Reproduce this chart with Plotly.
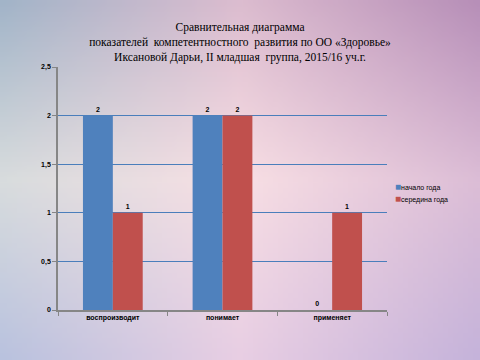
import base64
import struct
import zlib
import plotly.graph_objects as go

categories = ["воспроизводит", "понимает", "применяет"]
series_names = ["начало года", "середина года"]
start_values = [2, 2, 0]
mid_values = [1, 2, 1]
y_ticks = [0, 0.5, 1, 1.5, 2, 2.5]
colors = ["#4f81bd", "#c0504d"]

title_text = ("Сравнительная диаграмма<br>"
              "показателей  компетентностного  развития по ОО «Здоровье»<br>"
              "Иксановой Дарьи, II младшая  группа, 2015/16 уч.г.")

# ---- background gradient (style only) ----
grid = [["#a2b4c8", "#dcbccf", "#b78fb8"],
        ["#d8dcdd", "#f8dfe4", "#dcbdd6"],
        ["#b9c2de", "#e8cee3", "#c5b3da"]]


def hex2rgb(h):
    h = h.lstrip("#")
    return [int(h[i:i + 2], 16) for i in (0, 2, 4)]


g = [[hex2rgb(c) for c in row] for row in grid]
W, H = 96, 72


def lerp(a, b, t):
    return [a[i] + (b[i] - a[i]) * t for i in range(3)]


def sample(u, v):
    xs = u * 2
    ys = v * 2
    i = min(int(xs), 1)
    j = min(int(ys), 1)
    tx = xs - i
    ty = ys - j
    top = lerp(g[j][i], g[j][i + 1], tx)
    bot = lerp(g[j + 1][i], g[j + 1][i + 1], tx)
    return [int(round(c)) for c in lerp(top, bot, ty)]


raw = b""
for y in range(H):
    raw += b"\x00"
    for x in range(W):
        raw += bytes(sample(x / (W - 1), y / (H - 1)))


def chunk(tag, data):
    c = struct.pack(">I", len(data)) + tag + data
    return c + struct.pack(">I", zlib.crc32(tag + data) & 0xffffffff)


png = (b"\x89PNG\r\n\x1a\n" + chunk(b"IHDR", struct.pack(">IIBBBBB", W, H, 8, 2, 0, 0, 0))
       + chunk(b"IDAT", zlib.compress(raw, 9)) + chunk(b"IEND", b""))
bg_uri = "data:image/png;base64," + base64.b64encode(png).decode()

ML, MR, MT, MB = 58, 93, 67, 50
FW, FH = 480, 360
pw, ph = FW - ML - MR, FH - MT - MB

fig = go.Figure()
for name, vals, col in zip(series_names, [start_values, mid_values], colors):
    fig.add_trace(go.Bar(x=categories, y=vals, name=name, legendgroup=name,
                         showlegend=False,
                         marker=dict(color=col, line=dict(width=0)),
                         text=[str(v) for v in vals], textposition="outside",
                         textfont=dict(size=7, color="black", family="Liberation Sans",
                                       weight="bold"),
                         cliponaxis=False))

# legend entries (one small legend per series so the rows sit 12 px apart)
legend_ids = ["legend", "legend2"]
legend_rows_px = [187, 199]
for name, col, lid in zip(series_names, colors, legend_ids):
    fig.add_trace(go.Scatter(x=[None], y=[None], mode="markers",
                             name=f"<span style='color:{col};font-size:10px'>■</span>{name}",
                             legendgroup=name, legend=lid,
                             marker=dict(symbol="square", size=0,
                                         color="rgba(0,0,0,0)",
                                         line=dict(width=0, color="rgba(0,0,0,0)"))))

fig.add_layout_image(source=bg_uri, xref="paper", yref="paper",
                     x=-ML / pw, y=1 + MT / ph, sizex=FW / pw, sizey=FH / ph,
                     xanchor="left", yanchor="top", sizing="stretch",
                     layer="below")

legend_style = dict(xanchor="left", yanchor="middle",
                    font=dict(size=7, family="Liberation Sans", color="black"),
                    bgcolor="rgba(0,0,0,0)", itemwidth=30, tracegroupgap=0)

fig.update_layout(
    width=FW, height=FH,
    margin=dict(l=ML, r=MR, t=MT, b=MB),
    paper_bgcolor="#e8d3e1",
    plot_bgcolor="rgba(0,0,0,0)",
    separators=", ",
    barmode="group", bargap=0.455, bargroupgap=0,
    title=dict(text=title_text, x=0.5, xanchor="center",
               y=1 - 31 / FH, yanchor="middle",
               font=dict(family="Liberation Serif, Times New Roman, serif", size=11.5,
                         color="black")),
    legend=dict(x=(355 - ML) / pw, y=1 - (legend_rows_px[0] - MT) / ph, **legend_style),
    legend2=dict(x=(355 - ML) / pw, y=1 - (legend_rows_px[1] - MT) / ph, **legend_style),
    showlegend=True,
    font=dict(family="Liberation Sans", size=7, color="black"),
)
fig.update_yaxes(range=[0, 2.5], tickvals=y_ticks, showgrid=True,
                 gridcolor="#4a7ebb", gridwidth=1, showline=True,
                 linecolor="#868686", linewidth=1.5, ticks="outside", ticklen=4,
                 tickcolor="#868686", zeroline=False,
                 tickfont=dict(size=7, family="Liberation Sans", color="black",
                               weight="bold"))
fig.update_xaxes(showline=True, linecolor="#868686", linewidth=1.5,
                 ticks="outside", tickson="boundaries", ticklen=4,
                 tickcolor="#868686",
                 tickfont=dict(size=7, family="Liberation Sans", color="black",
                               weight="bold"))

fig.write_html("out.html", config={"displayModeBar": False},
               post_script=("document.body.style.margin='0';"
                            "document.body.style.overflow='hidden';"
                            "document.documentElement.style.overflow='hidden';"))
